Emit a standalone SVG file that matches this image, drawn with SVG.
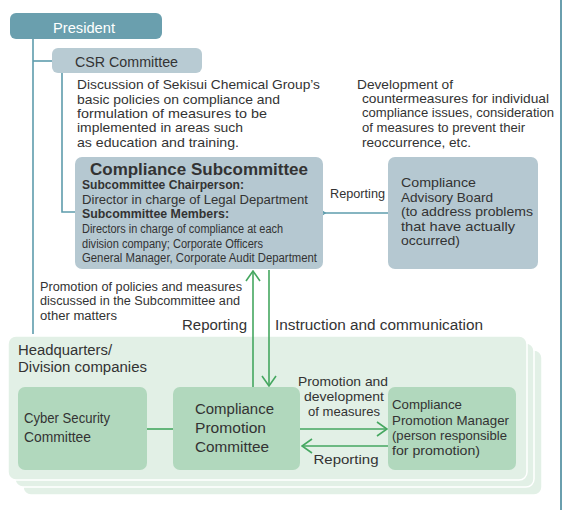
<svg xmlns="http://www.w3.org/2000/svg" width="567" height="510" viewBox="0 0 567 510">
<style>
text{font-family:"Liberation Sans","Noto Sans",sans-serif;fill:#333;}
.t13{font-size:13px;}
.t14{font-size:14px;}
.t12{font-size:12.5px;}
.teal{stroke:#5e9cac;stroke-width:1.6;fill:none;}
.green{stroke:#45a760;stroke-width:1.6;fill:none;}
.blue{fill:#b5c8d1;}
.gbox{fill:#b1d8bd;}
.panel{fill:#e2f0e6;stroke:#fff;stroke-width:1.5;}
</style>
<defs>
<marker id="tealHead" viewBox="0 0 12 16" refX="1" refY="8" markerWidth="12" markerHeight="16" markerUnits="userSpaceOnUse" orient="auto-start-reverse">
<path d="M12,1 L1,8 L12,15" fill="none" stroke="#5e9cac" stroke-width="1.6"/>
</marker>
<marker id="greenHead" viewBox="0 0 12 16" refX="11" refY="8" markerWidth="12" markerHeight="16" markerUnits="userSpaceOnUse" orient="auto-start-reverse">
<path d="M1,1 L11,8 L1,15" fill="none" stroke="#45a760" stroke-width="1.6"/>
</marker>
</defs>

<rect x="0" y="0" width="567" height="510" fill="#fff"/>
<line x1="561" y1="0" x2="561" y2="510" stroke="#6a9fae" stroke-width="2"/>

<g id="hq">
<rect class="panel" x="23" y="350" width="519" height="145" rx="8"/>
<rect class="panel" x="15" y="343" width="519" height="144" rx="8"/>
<rect class="panel" x="8" y="336" width="519" height="144" rx="8"/>
<text class="t14" x="18" y="355" textLength="94" lengthAdjust="spacingAndGlyphs">Headquarters/</text>
<text class="t14" x="18" y="372" textLength="129" lengthAdjust="spacingAndGlyphs">Division companies</text>
</g>

<g id="connectors">
<polyline class="teal" points="33,39 33,334"/>
<polyline class="teal" points="33,61 52,61"/>
<polyline class="teal" points="62,73 62,212 75,212"/>
<line class="teal" x1="388" y1="213" x2="325" y2="213" marker-end="url(#tealHead)"/>
<line class="green" x1="253" y1="387" x2="253" y2="271" marker-end="url(#greenHead)"/>
<line class="green" x1="269" y1="270" x2="269" y2="386" marker-end="url(#greenHead)"/>
<line class="green" x1="147" y1="429" x2="173" y2="429"/>
<line class="green" x1="300" y1="429" x2="387" y2="429" marker-end="url(#greenHead)"/>
<line class="green" x1="388" y1="446" x2="302" y2="446" marker-end="url(#greenHead)"/>
<text class="t13" x="330" y="198" textLength="55" lengthAdjust="spacingAndGlyphs">Reporting</text>
<text class="t14" x="182" y="330" textLength="65" lengthAdjust="spacingAndGlyphs">Reporting</text>
<text class="t14" x="275" y="330" textLength="208" lengthAdjust="spacingAndGlyphs">Instruction and communication</text>
<text class="t13" x="343" y="386" text-anchor="middle" textLength="90" lengthAdjust="spacingAndGlyphs">Promotion and</text>
<text class="t13" x="344" y="401" text-anchor="middle" textLength="80" lengthAdjust="spacingAndGlyphs">development</text>
<text class="t13" x="344" y="416" text-anchor="middle" textLength="72" lengthAdjust="spacingAndGlyphs">of measures</text>
<text class="t13" x="346" y="464" text-anchor="middle" textLength="65" lengthAdjust="spacingAndGlyphs">Reporting</text>
<text class="t12" x="40" y="291" textLength="202" lengthAdjust="spacingAndGlyphs">Promotion of policies and measures</text>
<text class="t12" x="40" y="305" textLength="200" lengthAdjust="spacingAndGlyphs">discussed in the Subcommittee and</text>
<text class="t12" x="40" y="320" textLength="77" lengthAdjust="spacingAndGlyphs">other matters</text>
</g>

<g id="president">
<rect x="10" y="13" width="152" height="26" rx="6" fill="#6a9fae"/>
<text class="t14" x="53" y="33" style="fill:#fff" textLength="62" lengthAdjust="spacingAndGlyphs">President</text>
</g>

<g id="csr">
<rect x="52" y="48" width="150" height="25" rx="6" fill="#b8cbd3"/>
<text class="t14" x="75" y="67" textLength="103" lengthAdjust="spacingAndGlyphs">CSR Committee</text>
<text class="t13" x="77" y="89" textLength="243" lengthAdjust="spacingAndGlyphs">Discussion of Sekisui Chemical Group’s</text>
<text class="t13" x="77" y="104" textLength="203" lengthAdjust="spacingAndGlyphs">basic policies on compliance and</text>
<text class="t13" x="77" y="118" textLength="190" lengthAdjust="spacingAndGlyphs">formulation of measures to be</text>
<text class="t13" x="77" y="132" textLength="166" lengthAdjust="spacingAndGlyphs">implemented in areas such</text>
<text class="t13" x="77" y="147" textLength="162" lengthAdjust="spacingAndGlyphs">as education and training.</text>
</g>

<g id="advisory-desc">
<text class="t13" x="357" y="89" textLength="96" lengthAdjust="spacingAndGlyphs">Development of</text>
<text class="t13" x="362" y="103" textLength="187" lengthAdjust="spacingAndGlyphs">countermeasures for individual</text>
<text class="t13" x="362" y="117" textLength="192" lengthAdjust="spacingAndGlyphs">compliance issues, consideration</text>
<text class="t13" x="362" y="132" textLength="163" lengthAdjust="spacingAndGlyphs">of measures to prevent their</text>
<text class="t13" x="362" y="147" textLength="109" lengthAdjust="spacingAndGlyphs">reoccurrence, etc.</text>
</g>

<g id="subcommittee">
<rect class="blue" x="75" y="157" width="248" height="112" rx="7"/>
<text x="90" y="175" style="font-size:16px;font-weight:bold" textLength="218" lengthAdjust="spacingAndGlyphs">Compliance Subcommittee</text>
<text x="82" y="189" style="font-size:13px;font-weight:bold" textLength="162" lengthAdjust="spacingAndGlyphs">Subcommittee Chairperson:</text>
<text class="t13" x="82" y="204" textLength="226" lengthAdjust="spacingAndGlyphs">Director in charge of Legal Department</text>
<text x="82" y="218" style="font-size:13px;font-weight:bold" textLength="147" lengthAdjust="spacingAndGlyphs">Subcommittee Members:</text>
<text x="82" y="233" style="font-size:12px" textLength="201" lengthAdjust="spacingAndGlyphs">Directors in charge of compliance at each</text>
<text x="82" y="248" style="font-size:12px" textLength="181" lengthAdjust="spacingAndGlyphs">division company; Corporate Officers</text>
<text x="82" y="262" style="font-size:12px" textLength="235" lengthAdjust="spacingAndGlyphs">General Manager, Corporate Audit Department</text>
</g>

<g id="advisory-board">
<rect class="blue" x="388" y="157" width="150" height="112" rx="7"/>
<text class="t13" x="401" y="187" textLength="75" lengthAdjust="spacingAndGlyphs">Compliance</text>
<text class="t13" x="401" y="201.5" textLength="92" lengthAdjust="spacingAndGlyphs">Advisory Board</text>
<text class="t13" x="401" y="216" textLength="132" lengthAdjust="spacingAndGlyphs">(to address problems</text>
<text class="t13" x="401" y="230.5" textLength="114" lengthAdjust="spacingAndGlyphs">that have actually</text>
<text class="t13" x="401" y="245" textLength="59" lengthAdjust="spacingAndGlyphs">occurred)</text>
</g>

<g id="cyber">
<rect class="gbox" x="18" y="387" width="129" height="83" rx="7"/>
<text class="t14" x="24" y="423" textLength="86" lengthAdjust="spacingAndGlyphs">Cyber Security</text>
<text class="t14" x="24" y="442" textLength="67" lengthAdjust="spacingAndGlyphs">Committee</text>
</g>

<g id="promotion-committee">
<rect class="gbox" x="173" y="387" width="127" height="83" rx="7"/>
<text class="t14" x="195" y="414" textLength="79" lengthAdjust="spacingAndGlyphs">Compliance</text>
<text class="t14" x="195" y="433" textLength="71" lengthAdjust="spacingAndGlyphs">Promotion</text>
<text class="t14" x="195" y="452" textLength="74" lengthAdjust="spacingAndGlyphs">Committee</text>
</g>

<g id="promotion-manager">
<rect class="gbox" x="388" y="387" width="128" height="83" rx="7"/>
<text class="t13" x="392" y="409" textLength="70" lengthAdjust="spacingAndGlyphs">Compliance</text>
<text class="t13" x="392" y="425" textLength="117" lengthAdjust="spacingAndGlyphs">Promotion Manager</text>
<text class="t13" x="392" y="440" textLength="115" lengthAdjust="spacingAndGlyphs">(person responsible</text>
<text class="t13" x="392" y="455" textLength="88" lengthAdjust="spacingAndGlyphs">for promotion)</text>
</g>
</svg>
